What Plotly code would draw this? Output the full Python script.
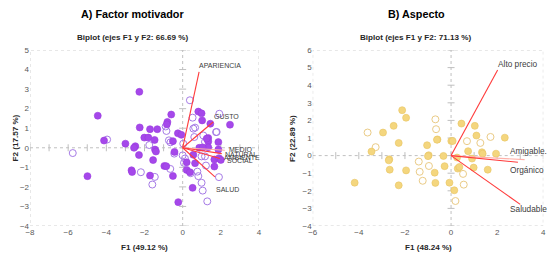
import plotly.graph_objects as go

# ---------------- Panel A: Factor motivador ----------------
a_filled_x = [-2.27, -4.45, 0.82, 0.99, 1.02, 1.45, 2.48, -0.60, -0.80, -0.83, -2.25, -1.71, -1.33,
              -0.25, -0.07, -2.01, -1.80, -1.47, -0.51, -4.12, -3.00, -2.48, -2.55, -1.45, -1.40,
              -2.29, -1.55, -0.43, -0.96, -0.86, -2.68, -2.65, -1.71, -0.51, -0.23, -4.99, 0.21,
              0.56, 0.65, 0.21, 0.38, 0.52, 1.66, 1.66, 1.90, 0.87, 1.34, 1.34, 1.34, 1.87, 1.87,
              1.26, 2.00, 1.05]
a_filled_y = [2.86, 1.64, 1.85, 1.76, 1.40, 1.23, 1.18, 1.70, 1.32, 1.20, 1.04, 0.95, 0.95,
              0.74, 0.66, 0.52, 0.52, 0.40, 0.34, 0.37, 0.21, 0.08, 0.00, -0.09, -0.19,
              -0.37, -0.63, -0.21, -0.93, -0.94, -1.15, -1.24, -1.42, -1.44, -2.78, -1.45, -0.74,
              -0.36, -0.79, -1.13, -1.25, -2.05, -0.96, -0.60, -0.53, 0.00, 0.50, 0.32, 0.03, 0.29, -0.09,
              0.47, -0.62, 0.02]
a_hollow_x = [0.38, 0.52, 1.92, -0.89, -0.85, 0.56, 1.78, 0.61, 1.17, 0.03, -0.72, -0.64, -1.75,
              -3.96, -5.76, -0.44, -0.65, -2.19, -1.46, -1.59, 0.00, 0.07, 0.12, 0.42, 0.77, 0.82,
              0.99, 1.05, 1.29, 1.22, 1.90, 0.99, 1.17, 1.75, 1.08, 0.65]
a_hollow_y = [2.43, 1.54, 1.74, 1.09, 0.86, 0.98, 0.81, 0.55, 0.30, 0.21, 0.38, 0.28, 0.14,
              0.42, -0.27, -0.30, -1.08, -1.25, -1.49, -1.88, -0.39, -0.77, -0.55, -1.30, -1.22, -1.45,
              -1.79, -2.19, -2.74, -0.91, -1.50, -0.44, -0.44, 0.80, 0.63, 1.03]
a_vec_names = ["APARIENCIA", "GUSTO", "MEDIO AMBIENTE", "NATURAL", "SOCIAL", "SALUD"]
a_vec_x = [0.86, 1.60, 2.21, 2.05, 1.95, 1.69]
a_vec_y = [3.88, 1.32, -0.13, -0.30, -0.55, -1.49]
a_vec_colors = ["#FF3B3B", "#FF3B3B", "#FFB0A8", "#FF3B3B", "#FF3B3B", "#FF3B3B"]
a_label_text = ["APARIENCIA", "GUSTO", "MEDIO", "NATURAL", "AMBIENTE", "SOCIAL", "SALUD"]
a_label_x = [0.75, 1.52, 2.30, 2.12, 2.04, 2.22, 1.65]
a_label_y = [4.22, 1.62, -0.09, -0.33, -0.50, -0.67, -2.13]
a_xticks = [-8, -6, -4, -2, 0, 2, 4]
a_yticks = [-4, -3, -2, -1, 0, 1, 2, 3, 4, 5]

# ---------------- Panel B: Aspecto ----------------
b_filled_x = [-2.12, -1.95, -2.49, 0.45, 1.03, -2.95, -3.45, -2.68, -2.66, -2.27, -1.04, -0.59,
              0.01, 0.07, -0.97, -1.00, -0.33, -1.95, -0.71, -0.28, -0.68, -2.27, -4.18, -0.07,
              0.14, 0.29, 0.36, 0.26, 0.98, 1.59, 0.91, 0.74, 1.34, 1.37, 1.95, 1.10, 2.33, -2.70,
              -0.61]
b_filled_y = [2.58, 2.15, 1.69, 1.82, 1.69, 1.31, 0.23, -0.21, -0.80, 0.72, 0.59, 0.92,
              0.83, 0.83, 0.02, -0.03, -0.02, -0.84, -0.97, -0.60, -1.55, -1.69, -1.54, -1.54,
              -1.97, -0.74, -0.65, -0.11, -0.68, -0.80, -0.17, 0.25, 0.19, 0.11, 0.11, 1.14, 1.02, -0.27,
              0.90]
b_hollow_x = [-0.68, -0.65, -3.62, -3.27, -1.40, -0.96, -1.36, -1.23, 0.19, 0.55, 0.52, 0.69,
              1.27, 1.71]
b_hollow_y = [2.06, 1.50, 1.31, 0.48, -0.34, -0.59, -0.92, -1.43, -2.58, -1.65, -1.04, 0.82,
              0.72, 1.06]
b_vec_names = ["Alto precio", "Amigable...", "Orgánico", "Saludable"]
b_vec_x = [2.02, 3.19, 2.90, 3.00]
b_vec_y = [4.86, -0.23, -0.38, -2.77]
b_vec_colors = ["#FF3B3B", "#FFB0A8", "#FF3B3B", "#FF3B3B"]
b_label_x = [1.95, 2.47, 2.47, 2.47]
b_label_y = [5.20, 0.25, -0.80, -3.02]
b_xticks = [-6, -4, -2, 0, 2, 4]
b_yticks = [-4, -3, -2, -1, 0, 1, 2, 3, 4, 5, 6]

FONT = "Liberation Sans, Arial, sans-serif"

# page has an 8px body margin; figure is sized to fit the window
OFF = 8
W, H = 555 - OFF, 260 - OFF

def fx_(p):
    return (p - OFF) / W

def fy_(p):
    return 1 - (p - OFF) / H

fig = go.Figure()

def add_panel(xs, ys, fx, fy, hx, hy, fcol, fline, hcol, vx, vy, vcols, xr, yr):
    fig.add_trace(go.Scatter(x=[0] * (yr[1] - yr[0] + 1), y=list(range(yr[0], yr[1] + 1)),
                             mode="markers", xaxis=xs, yaxis=ys, hoverinfo="skip",
                             marker=dict(symbol="line-ew", size=5, line=dict(color="#BFBFBF", width=1))))
    fig.add_trace(go.Scatter(x=list(range(xr[0], xr[1] + 1)), y=[0] * (xr[1] - xr[0] + 1),
                             mode="markers", xaxis=xs, yaxis=ys, hoverinfo="skip",
                             marker=dict(symbol="line-ns", size=5, line=dict(color="#BFBFBF", width=1))))
    fig.add_trace(go.Scatter(x=hx, y=hy, mode="markers", xaxis=xs, yaxis=ys,
                             marker=dict(size=7, color="rgba(255,255,255,0)",
                                         line=dict(color=hcol, width=1))))
    fig.add_trace(go.Scatter(x=fx, y=fy, mode="markers", xaxis=xs, yaxis=ys,
                             marker=dict(size=7, color=fcol, line=dict(color=fline, width=0.6))))
    for x1, y1, c in zip(vx, vy, vcols):
        fig.add_trace(go.Scatter(x=[0, x1], y=[0, y1], mode="lines", xaxis=xs, yaxis=ys,
                                 line=dict(color=c, width=1.1), hoverinfo="skip"))

add_panel("x", "y", a_filled_x, a_filled_y, a_hollow_x, a_hollow_y,
          "#A548EA", "#9A3ADF", "#A67BE6", a_vec_x, a_vec_y, a_vec_colors, (-8, 4), (-4, 5))
add_panel("x2", "y2", b_filled_x, b_filled_y, b_hollow_x, b_hollow_y,
          "#F4D67E", "#E8C463", "#EACB86", b_vec_x, b_vec_y, b_vec_colors, (-6, 4), (-4, 6))

ax_common = dict(showgrid=False, zeroline=False, showline=False, ticks="", automargin=False,
                 tickfont=dict(size=8, color="#595959", family=FONT))
ydom = [fy_(226), fy_(50)]
fig.update_layout(
    width=W, height=H, showlegend=False,
    paper_bgcolor="white", plot_bgcolor="white",
    margin=dict(l=0, r=0, t=0, b=0, autoexpand=False),
    font=dict(family=FONT),
    xaxis=dict(domain=[fx_(30), fx_(259)], range=[-8, 4], tickvals=a_xticks, anchor="y", **ax_common),
    yaxis=dict(domain=ydom, range=[-4, 5], tickvals=a_yticks, anchor="x", **ax_common),
    xaxis2=dict(domain=[fx_(312.7), fx_(543.3)], range=[-6, 4], tickvals=b_xticks, anchor="y2", **ax_common),
    yaxis2=dict(domain=ydom, range=[-4, 6], tickvals=b_yticks, anchor="x2", **ax_common),
)

for xr, yr, xs, ys in [((-8, 4), (-4, 5), "x", "y"), ((-6, 4), (-4, 6), "x2", "y2")]:
    fig.add_shape(type="rect", xref=xs, yref=ys, x0=xr[0], x1=xr[1], y0=yr[0], y1=yr[1],
                  line=dict(color="#D0D0D0", width=1, dash="dot"), layer="below")
    fig.add_shape(type="line", xref=xs, yref=ys, x0=0, x1=0, y0=yr[0], y1=yr[1],
                  line=dict(color="#C0C0C0", width=1, dash="dot"), layer="below")
    fig.add_shape(type="line", xref=xs, yref=ys, x0=xr[0], x1=xr[1], y0=0, y1=0,
                  line=dict(color="#C0C0C0", width=1, dash="dot"), layer="below")

ann = []
for t, x, y in zip(a_label_text, a_label_x, a_label_y):
    ann.append(dict(text=t, x=x, y=y, xref="x", yref="y", showarrow=False, xanchor="left",
                    font=dict(size=7, color="#404040")))
for t, x, y in zip(b_vec_names, b_label_x, b_label_y):
    ann.append(dict(text=t, x=x, y=y, xref="x2", yref="y2", showarrow=False, xanchor="left",
                    font=dict(size=8.3, color="#404040")))

def pann(text, x, y, size, angle=0, xanchor="center"):
    return dict(text=f"<b>{text}</b>", x=fx_(x), y=fy_(y),
                xref="paper", yref="paper", showarrow=False, xanchor=xanchor, yanchor="middle",
                textangle=angle, font=dict(size=size, color="#000000" if size > 9 else "#262626"))

ann += [
    pann("A) Factor motivador", 132, 14, 10.8),
    pann("Biplot (ejes F1 y F2: 66.69 %)", 132, 37, 8.1),
    pann("F1 (49.12 %)", 144, 247, 8.1),
    pann("F2 (17.57 %)", 8, 138, 8.1, angle=-90, xanchor="left"),
    pann("B) Aspecto", 416, 14, 10.8),
    pann("Biplot (ejes F1 y F2: 71.13 %)", 415, 37, 8.1),
    pann("F1 (48.24 %)", 428, 247, 8.1),
    pann("F2 (22.89 %)", 292, 138, 8.1, angle=-90),
]
fig.update_layout(annotations=ann)
fig.write_html("out.html")
